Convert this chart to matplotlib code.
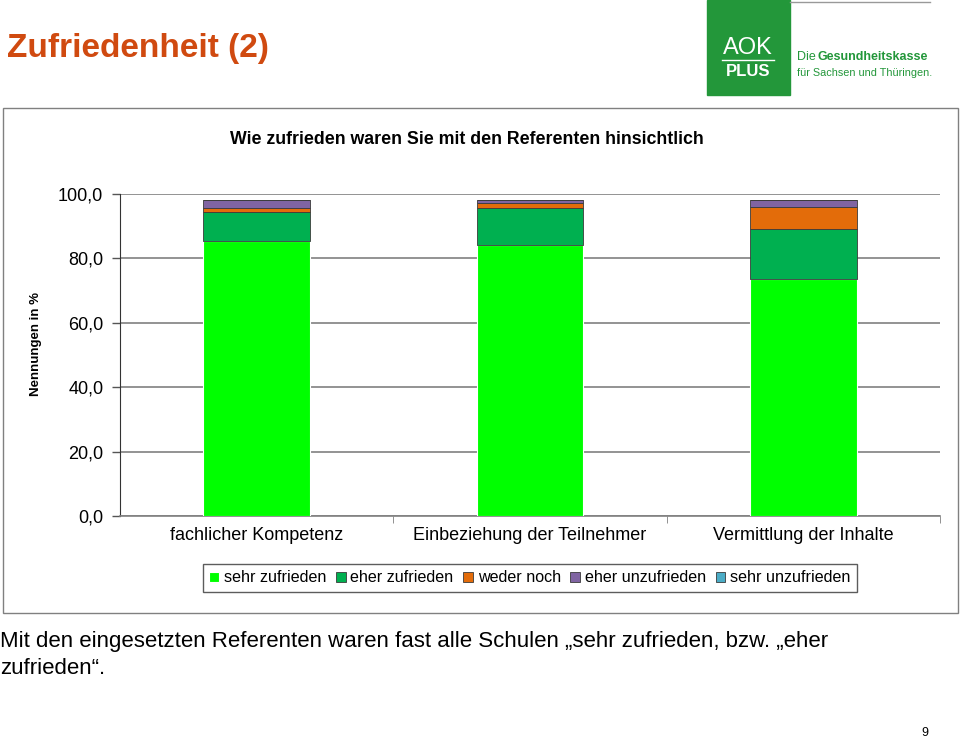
import matplotlib.pyplot as plt
from matplotlib.patches import Rectangle
from matplotlib.lines import Line2D
import numpy as np

plt.rcParams['font.family'] = ['Liberation Sans', 'DejaVu Sans']

kategorien = ['fachlicher Kompetenz', 'Einbeziehung der Teilnehmer', 'Vermittlung der Inhalte']
sehr_zufrieden = [85.4, 84.2, 73.6]
eher_zufrieden = [9.0, 11.5, 15.5]
weder_noch = [1.3, 1.5, 6.9]
eher_unzufrieden = [2.4, 0.9, 2.1]
sehr_unzufrieden = [0.0, 0.0, 0.0]

serien = [sehr_zufrieden, eher_zufrieden, weder_noch, eher_unzufrieden, sehr_unzufrieden]
namen = ['sehr zufrieden', 'eher zufrieden', 'weder noch', 'eher unzufrieden', 'sehr unzufrieden']
farben = ['#00FF00', '#00B050', '#E36C0A', '#8064A2', '#4BACC6']
yticks = [0, 20, 40, 60, 80, 100]

fig = plt.figure(figsize=(9.6, 7.4), dpi=100)

# Rahmen um das Diagramm
fig.add_artist(Rectangle((3 / 960, 1 - 613 / 740), 955 / 960, 505 / 740,
                         transform=fig.transFigure, fill=False, edgecolor='#808080', lw=1))

ax = fig.add_axes([120 / 960, 1 - 516 / 740, 820 / 960, 322 / 740])
x = np.arange(len(kategorien))
unten = np.zeros(len(kategorien))
for i, (werte, name, farbe) in enumerate(zip(serien, namen, farben)):
    if i == 0:
        ax.bar(x, werte, 0.39, bottom=unten, color=farbe, label=name, zorder=3,
               edgecolor='white', lw=0.8)
    else:
        ax.bar(x, werte, 0.39, bottom=unten, color=farbe, label=name, zorder=3,
               edgecolor='#3a3a3a', lw=0.6)
    unten += np.array(werte)

ax.set_xlim(-0.5, 2.5)
ax.set_ylim(0, 100)
ax.set_yticks(yticks)
ax.set_yticklabels([('%.1f' % v).replace('.', ',') for v in yticks], fontsize=13)
ax.yaxis.grid(True, color='#808080', lw=1.2, zorder=0)
ax.set_xticks(x)
ax.set_xticklabels(kategorien, fontsize=13)
ax.tick_params(axis='x', length=0, pad=8)
ax.set_xticks([0.5, 1.5, 2.5], minor=True)
ax.tick_params(axis='x', which='minor', length=5, color='#808080')
ax.tick_params(axis='y', length=6, width=1, color='#555555', pad=6)
for s in ['top', 'right']:
    ax.spines[s].set_visible(False)
ax.spines['left'].set_color('#333333')
ax.spines['bottom'].set_color('#808080')
ax.spines['bottom'].set_linewidth(1.2)
ax.set_ylabel('Nennungen in %', fontsize=9.5, fontweight='bold')
ax.yaxis.set_label_coords(-0.095, 0.534)

fig.text(467 / 960, 1 - 139 / 740, 'Wie zufrieden waren Sie mit den Referenten hinsichtlich',
         ha='center', va='center', fontsize=12.8, fontweight='bold')

leg = fig.legend(loc='center', bbox_to_anchor=(530 / 960, 1 - 578 / 740), ncol=5,
                 fontsize=11.6, frameon=True, fancybox=False, handlelength=0.6, handleheight=0.6,
                 handletextpad=0.3, columnspacing=0.6, borderpad=0.4)
leg.get_frame().set_edgecolor('#333333')
leg.get_frame().set_linewidth(1)

# Folientitel
fig.text(7 / 960, 1 - 48 / 740, 'Zufriedenheit (2)', fontsize=24, fontweight='bold',
         color='#D04A10', va='center', ha='left')

# Logo
fig.add_artist(Rectangle((707 / 960, 1 - 95 / 740), 83 / 960, 95 / 740,
                         transform=fig.transFigure, color='#23973A'))
fig.text(748 / 960, 1 - 48 / 740, 'AOK', color='white', fontsize=17, ha='center', va='center')
fig.add_artist(Line2D([722 / 960, 774 / 960], [1 - 60 / 740, 1 - 60 / 740],
                      transform=fig.transFigure, color='white', lw=1))
fig.text(748 / 960, 1 - 72 / 740, 'PLUS', color='white', fontsize=12, fontweight='bold',
         ha='center', va='center')
fig.text(797 / 960, 1 - 57 / 740, 'Die', color='#23973A', fontsize=9, va='center')
fig.text(818 / 960, 1 - 57 / 740, 'Gesundheitskasse', color='#23973A', fontsize=9,
         fontweight='bold', va='center')
fig.text(797 / 960, 1 - 73 / 740, 'für Sachsen und Thüringen.', color='#23973A', fontsize=7.8,
         va='center')
fig.add_artist(Line2D([790 / 960, 930 / 960], [1 - 1.5 / 740, 1 - 1.5 / 740],
                      transform=fig.transFigure, color='#999999', lw=1))

# Fazit
fig.text(0, 1 - 641 / 740, 'Mit den eingesetzten Referenten waren fast alle Schulen „sehr zufrieden, bzw. „eher',
         fontsize=16, va='center', ha='left')
fig.text(0, 1 - 668 / 740, 'zufrieden“.', fontsize=16, va='center', ha='left')
fig.text(925 / 960, 1 - 733 / 740, '9', fontsize=9, va='center', ha='center')

fig.savefig('out.png', dpi=100)
